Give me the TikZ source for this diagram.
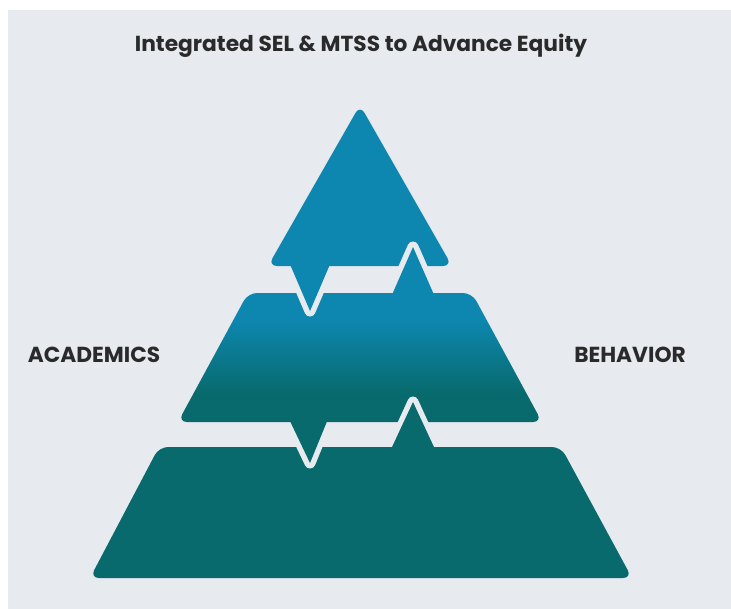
\documentclass[tikz,border=0pt]{standalone}
\usepackage{fontspec}
\setmainfont{Poppins}
\definecolor{bg}{HTML}{E7EBEF}
\definecolor{tblue}{HTML}{0D87B0}
\definecolor{tteal}{HTML}{086A6C}
\definecolor{txt}{HTML}{2A2A2A}
\pgfdeclareverticalshading{midgrad}{100bp}{color(0bp)=(tteal); color(35.5bp)=(tteal); color(65bp)=(tblue); color(100bp)=(tblue)}
\begin{document}
\begin{tikzpicture}[x=0.75pt,y=-0.75pt,
  gapline/.style={draw=bg,line width=8.25pt,line join=round},
  rc/.style={rounded corners=6.75pt},
  lbl/.style={font=\bfseries\fontsize{16.3}{18}\selectfont,text=txt,inner sep=0pt}]
\useasboundingbox (0,0) rectangle (731,608);
\fill[white] (-10,-10) rectangle (745,620);
\fill[bg] (8,10) rectangle (745,620);
% bottom tier body
\fill[tteal,rc] (159,447) -- (561,447) -- (632,578) -- (90,578) -- cycle;
% middle tier
\path[gapline,rc] (248,293) -- (472,293) -- (542,422) -- (178,422) -- cycle;
\path[gapline] (289,419) -- (310,463) -- (328,419);
\path[rc,shading=midgrad] (248,293) -- (472,293) -- (542,422) -- (178,422) -- cycle;
\fill[tteal] (289,419) -- (310,463) -- (328,419) -- cycle;
% bottom peak
\path[gapline] (394.3,443) -- (413,402) -- (431.7,443);
\fill[tteal] (389.7,452) -- (413,402) -- (436.3,452) -- cycle;
% top tier
\path[gapline,rc] (360,105) -- (452,266) -- (268,266) -- cycle;
\path[gapline] (289,262) -- (310,311) -- (331,262);
\fill[tblue,rc] (360,105) -- (452,266) -- (268,266) -- cycle;
\fill[tblue] (289,262) -- (310,311) -- (331,262) -- cycle;
% middle peak
\path[gapline] (394.9,288) -- (413,247) -- (431.1,288);
\fill[tblue] (391,297) -- (413,247) -- (435,297) -- cycle;
% texts
\node[lbl] (title) at (361,46) {Integrated SEL \& MTSS to Advance Equity};
\node[lbl] (acad) at (94,355) {ACADEMICS};
\node[lbl] (behav) at (630,355) {BEHAVIOR};
\end{tikzpicture}
\end{document}
